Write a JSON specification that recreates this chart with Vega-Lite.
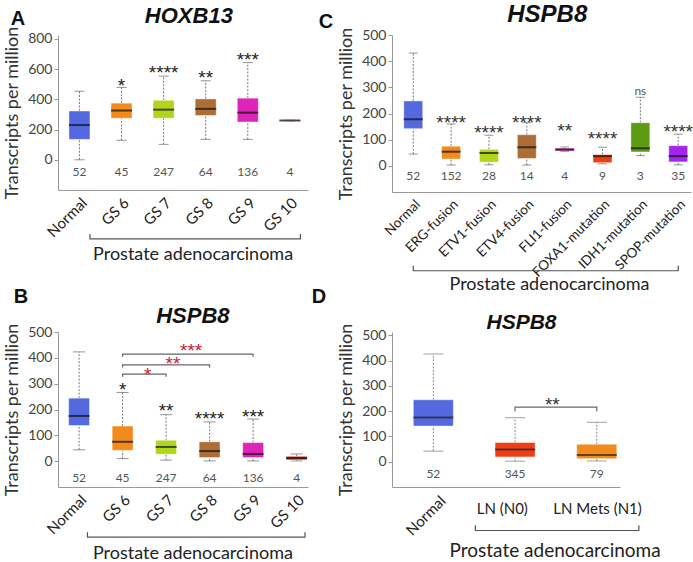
{
"$schema":"https://vega.github.io/schema/vega-lite/v6.json",
"background":"white",
"padding":{"left":3,"top":2,"right":0,"bottom":0},
"config":{
 "view":{"stroke":null},
 "font":"Lato",
 "axis":{"domainColor":"#9a9a9a","tickColor":"#9a9a9a","labelColor":"#444","labelFont":"Lato","titleFont":"Lato","titleFontWeight":"normal","titleColor":"#333","grid":false},
 "axisY":{"labelOverlap":false,"titleFontSize":18,"labelFontSize":14,"tickSize":4,"titlePadding":6},
 "title":{"font":"Liberation Sans","fontWeight":"bold","fontSize":20,"anchor":"start","frame":"bounds","color":"#111"}
},
"datasets":{
 "boxA":[
  {"g":"Normal","min":0,"q1":135,"med":230,"q3":323,"max":454,"n":52,"sig":"","sy":null},
  {"g":"GS 6","min":129,"q1":275,"med":326,"q3":375,"max":479,"n":45,"sig":"*","sy":521},
  {"g":"GS 7","min":102,"q1":275,"med":332,"q3":394,"max":554,"n":247,"sig":"****","sy":605},
  {"g":"GS 8","min":135,"q1":293,"med":337,"q3":403,"max":523,"n":64,"sig":"**","sy":572},
  {"g":"GS 9","min":135,"q1":250,"med":312,"q3":408,"max":643,"n":136,"sig":"***","sy":694},
  {"g":"GS 10","min":258,"q1":258,"med":260,"q3":262,"max":262,"n":4,"sig":"","sy":null}
 ],
 "boxB":[
  {"g":"Normal","min":44,"q1":138,"med":175,"q3":244,"max":423,"n":52,"sig":"","sy":null},
  {"g":"GS 6","min":10,"q1":42,"med":75,"q3":136,"max":266,"n":45,"sig":"*","sy":296},
  {"g":"GS 7","min":4,"q1":27,"med":55,"q3":81,"max":180,"n":247,"sig":"**","sy":212},
  {"g":"GS 8","min":1,"q1":14,"med":39,"q3":75,"max":152,"n":64,"sig":"****","sy":182},
  {"g":"GS 9","min":1,"q1":14,"med":28,"q3":72,"max":163,"n":136,"sig":"***","sy":191},
  {"g":"GS 10","min":1,"q1":5,"med":12,"q3":19,"max":28,"n":4,"sig":"","sy":null}
 ],
 "boxC":[
  {"g":"Normal","min":45,"q1":142,"med":178,"q3":248,"max":431,"n":52,"sig":"","sy":null},
  {"g":"ERG-fusion","min":3,"q1":26,"med":54,"q3":75,"max":160,"n":152,"sig":"****","sy":183},
  {"g":"ETV1-fusion","min":4,"q1":14,"med":49,"q3":63,"max":117,"n":28,"sig":"****","sy":145},
  {"g":"ETV4-fusion","min":3,"q1":28,"med":71,"q3":119,"max":165,"n":14,"sig":"****","sy":183},
  {"g":"FLI1-fusion","min":55,"q1":57,"med":62,"q3":68,"max":72,"n":4,"sig":"**","sy":153},
  {"g":"FOXA1-mutation","min":8,"q1":12,"med":37,"q3":43,"max":71,"n":9,"sig":"****","sy":123},
  {"g":"IDH1-mutation","min":39,"q1":53,"med":67,"q3":165,"max":262,"n":3,"sig":"ns","sy":287},
  {"g":"SPOP-mutation","min":4,"q1":15,"med":37,"q3":77,"max":121,"n":35,"sig":"****","sy":148}
 ],
 "boxD":[
  {"g":"Normal","min":42,"q1":141,"med":175,"q3":245,"max":426,"n":52},
  {"g":"LN (N0)","min":2,"q1":19,"med":48,"q3":76,"max":174,"n":345},
  {"g":"LN Mets (N1)","min":3,"q1":12,"med":27,"q3":69,"max":156,"n":79}
 ]
},
"columns":2,
"spacing":{"row":140,"column":84},
"bounds":"flush",
"align":"each",
"concat":[
 {
  "width":250,"height":155,
  "title":{"text":"A","dx":7,"offset":-24},
  "data":{"name":"boxA"},
  "encoding":{"x":{"field":"g","type":"nominal","scale":{"domain":["Normal","GS 6","GS 7","GS 8","GS 9","GS 10"],"paddingInner":0.5,"paddingOuter":0.22,"align":0.59},"axis":{"title":null,"labelAngle":-45,"labelFontSize":15,"labelColor":"#222","ticks":false,"labelPadding":5}}},
  "layer":[
   {"mark":{"type":"rule","color":"#777","strokeWidth":1,"strokeDash":[2,1.5]},
    "encoding":{"y":{"field":"min","type":"quantitative","scale":{"domain":[-200,826]},"axis":{"title":"Transcripts per million","values":[0,200,400,600,800],"labelOverlap":false}},"y2":{"field":"q1"}}},
   {"mark":{"type":"rule","color":"#777","strokeWidth":1,"strokeDash":[2,1.5]},
    "encoding":{"y":{"field":"q3","type":"quantitative","scale":{"domain":[-200,826]},"axis":{"title":"Transcripts per million","values":[0,200,400,600,800],"labelOverlap":false}},"y2":{"field":"max"}}},
   {"mark":{"type":"tick","orient":"horizontal","color":"#666","size":10,"thickness":1},
    "encoding":{"y":{"field":"min","type":"quantitative","scale":{"domain":[-200,826]},"axis":{"title":"Transcripts per million","values":[0,200,400,600,800],"labelOverlap":false}}}},
   {"mark":{"type":"tick","orient":"horizontal","color":"#666","size":10,"thickness":1},
    "encoding":{"y":{"field":"max","type":"quantitative","scale":{"domain":[-200,826]},"axis":{"title":"Transcripts per million","values":[0,200,400,600,800],"labelOverlap":false}}}},
   {"mark":{"type":"bar","stroke":"#ffffff","strokeOpacity":0.45,"strokeWidth":1},
    "encoding":{"y":{"field":"q1","type":"quantitative","scale":{"domain":[-200,826]},"axis":{"title":"Transcripts per million","values":[0,200,400,600,800],"labelOverlap":false}},"y2":{"field":"q3"},
     "color":{"field":"g","type":"nominal","legend":null,"scale":{"domain":["Normal","GS 6","GS 7","GS 8","GS 9","GS 10","ERG-fusion","ETV1-fusion","ETV4-fusion","FLI1-fusion","FOXA1-mutation","IDH1-mutation","SPOP-mutation","LN (N0)","LN Mets (N1)"],"range":["#5468e0","#f28a1e","#b0d51a","#ad6d36","#dd25b9","#d42a2a","#f28a1e","#b0d51a","#ad6d36","#d43cb6","#f03e14","#5e9a12","#a124ef","#f03e14","#f28a1e"]}}}},
   {"mark":{"type":"tick","orient":"horizontal","color":"#111","size":21,"thickness":2},
    "encoding":{"y":{"field":"med","type":"quantitative","scale":{"domain":[-200,826]},"axis":{"title":"Transcripts per million","values":[0,200,400,600,800],"labelOverlap":false}}}},
   {"mark":{"type":"text","font":"Lato","fontSize":12,"color":"#555"},
    "encoding":{"y":{"datum":-84,"type":"quantitative","scale":{"domain":[-200,826]},"axis":{"title":"Transcripts per million","values":[0,200,400,600,800],"labelOverlap":false}},"text":{"field":"n","type":"nominal"}}},
   {"transform":[{"filter":"datum.sig != '' && datum.sig != 'ns'"}],
    "mark":{"type":"text","font":"Liberation Sans","fontSize":19,"color":"#222","baseline":"alphabetic","dy":11},
    "encoding":{"y":{"field":"sy","type":"quantitative","scale":{"domain":[-200,826]},"axis":{"title":"Transcripts per million","values":[0,200,400,600,800],"labelOverlap":false}},"text":{"field":"sig","type":"nominal"}}},
   {"data":{"values":[{"g":"Normal","v":-491,"o":1},{"g":"Normal","v":-524,"o":2},{"g":"GS 10","v":-524,"o":3},{"g":"GS 10","v":-491,"o":4}]},
    "mark":{"type":"line","color":"#555","strokeWidth":1.2},
    "encoding":{"x":{"field":"g","type":"nominal","bandPosition":1,"title":null,"scale":{"domain":["Normal","GS 6","GS 7","GS 8","GS 9","GS 10"],"paddingInner":0.5,"paddingOuter":0.22,"align":0.59}},
     "y":{"field":"v","type":"quantitative","scale":{"domain":[-200,826]},"axis":{"title":"Transcripts per million","values":[0,200,400,600,800],"labelOverlap":false}},"order":{"field":"o","type":"quantitative"}}},
   {"data":{"values":[{"g":"GS 8","v":-628,"t":"Prostate adenocarcinoma"}]},
    "mark":{"type":"text","font":"Lato","fontSize":18,"color":"#222"},
    "encoding":{"x":{"field":"g","type":"nominal","bandPosition":-0.1,"title":null,"scale":{"domain":["Normal","GS 6","GS 7","GS 8","GS 9","GS 10"],"paddingInner":0.5,"paddingOuter":0.22,"align":0.59}},
     "y":{"field":"v","type":"quantitative","scale":{"domain":[-200,826]},"axis":{"title":"Transcripts per million","values":[0,200,400,600,800],"labelOverlap":false}},"text":{"field":"t","type":"nominal"}}},
   {"data":{"values":[{"g":"GS 8","v":952,"t":"HOXB13"}]},
    "mark":{"type":"text","font":"Liberation Sans","fontSize":22,"fontWeight":"bold","fontStyle":"italic","color":"#111"},
    "encoding":{"x":{"field":"g","type":"nominal","bandPosition":-0.3,"title":null,"scale":{"domain":["Normal","GS 6","GS 7","GS 8","GS 9","GS 10"],"paddingInner":0.5,"paddingOuter":0.22,"align":0.59}},
     "y":{"field":"v","type":"quantitative","scale":{"domain":[-200,826]},"axis":{"title":"Transcripts per million","values":[0,200,400,600,800],"labelOverlap":false}},"text":{"field":"t","type":"nominal"}}}
  ]
 },
 {
  "width":299,"height":157,
  "title":{"text":"C","dx":-19,"offset":-29},
  "data":{"name":"boxC"},
  "encoding":{"x":{"field":"g","type":"nominal","scale":{"domain":["Normal","ERG-fusion","ETV1-fusion","ETV4-fusion","FLI1-fusion","FOXA1-mutation","IDH1-mutation","SPOP-mutation"],"paddingInner":0.5,"paddingOuter":0.2,"align":0.78},"axis":{"title":null,"labelAngle":-45,"labelFontSize":13.5,"labelColor":"#222","ticks":false,"labelPadding":5}}},
  "layer":[
   {"mark":{"type":"rule","color":"#777","strokeWidth":1,"strokeDash":[2,1.5]},
    "encoding":{"y":{"field":"min","type":"quantitative","scale":{"domain":[-100,500]},"axis":{"title":"Transcripts per million","values":[0,100,200,300,400,500],"labelOverlap":false}},"y2":{"field":"q1"}}},
   {"mark":{"type":"rule","color":"#777","strokeWidth":1,"strokeDash":[2,1.5]},
    "encoding":{"y":{"field":"q3","type":"quantitative","scale":{"domain":[-100,500]},"axis":{"title":"Transcripts per million","values":[0,100,200,300,400,500],"labelOverlap":false}},"y2":{"field":"max"}}},
   {"mark":{"type":"tick","orient":"horizontal","color":"#666","size":9,"thickness":1},
    "encoding":{"y":{"field":"min","type":"quantitative","scale":{"domain":[-100,500]},"axis":{"title":"Transcripts per million","values":[0,100,200,300,400,500],"labelOverlap":false}}}},
   {"mark":{"type":"tick","orient":"horizontal","color":"#666","size":9,"thickness":1},
    "encoding":{"y":{"field":"max","type":"quantitative","scale":{"domain":[-100,500]},"axis":{"title":"Transcripts per million","values":[0,100,200,300,400,500],"labelOverlap":false}}}},
   {"mark":{"type":"bar","stroke":"#ffffff","strokeOpacity":0.45,"strokeWidth":1},
    "encoding":{"y":{"field":"q1","type":"quantitative","scale":{"domain":[-100,500]},"axis":{"title":"Transcripts per million","values":[0,100,200,300,400,500],"labelOverlap":false}},"y2":{"field":"q3"},
     "color":{"field":"g","type":"nominal","legend":null,"scale":{"domain":["Normal","GS 6","GS 7","GS 8","GS 9","GS 10","ERG-fusion","ETV1-fusion","ETV4-fusion","FLI1-fusion","FOXA1-mutation","IDH1-mutation","SPOP-mutation","LN (N0)","LN Mets (N1)"],"range":["#5468e0","#f28a1e","#b0d51a","#ad6d36","#dd25b9","#d42a2a","#f28a1e","#b0d51a","#ad6d36","#d43cb6","#f03e14","#5e9a12","#a124ef","#f03e14","#f28a1e"]}}}},
   {"mark":{"type":"tick","orient":"horizontal","color":"#111","size":19,"thickness":2},
    "encoding":{"y":{"field":"med","type":"quantitative","scale":{"domain":[-100,500]},"axis":{"title":"Transcripts per million","values":[0,100,200,300,400,500],"labelOverlap":false}}}},
   {"mark":{"type":"text","font":"Lato","fontSize":12,"color":"#555"},
    "encoding":{"y":{"datum":-39,"type":"quantitative","scale":{"domain":[-100,500]},"axis":{"title":"Transcripts per million","values":[0,100,200,300,400,500],"labelOverlap":false}},"text":{"field":"n","type":"nominal"}}},
   {"transform":[{"filter":"datum.sig != '' && datum.sig != 'ns'"}],
    "mark":{"type":"text","font":"Liberation Sans","fontSize":19,"color":"#333","baseline":"alphabetic","dy":11},
    "encoding":{"y":{"field":"sy","type":"quantitative","scale":{"domain":[-100,500]},"axis":{"title":"Transcripts per million","values":[0,100,200,300,400,500],"labelOverlap":false}},"text":{"field":"sig","type":"nominal"}}},
   {"transform":[{"filter":"datum.sig == 'ns'"}],
    "mark":{"type":"text","font":"Lato","fontSize":12,"color":"#555"},
    "encoding":{"y":{"field":"sy","type":"quantitative","scale":{"domain":[-100,500]},"axis":{"title":"Transcripts per million","values":[0,100,200,300,400,500],"labelOverlap":false}},"text":{"field":"sig","type":"nominal"}}},
   {"data":{"values":[{"g":"Normal","v":-382,"o":1},{"g":"Normal","v":-401,"o":2},{"g":"SPOP-mutation","v":-401,"o":3},{"g":"SPOP-mutation","v":-382,"o":4}]},
    "mark":{"type":"line","color":"#555","strokeWidth":1.2},
    "encoding":{"y":{"field":"v","type":"quantitative","scale":{"domain":[-100,500]},"axis":{"title":"Transcripts per million","values":[0,100,200,300,400,500],"labelOverlap":false}},"order":{"field":"o","type":"quantitative"}}},
   {"data":{"values":[{"g":"ETV4-fusion","v":-456,"t":"Prostate adenocarcinoma"}]},
    "mark":{"type":"text","font":"Lato","fontSize":18,"color":"#222"},
    "encoding":{"x":{"field":"g","type":"nominal","bandPosition":1.7,"title":null,"scale":{"domain":["Normal","ERG-fusion","ETV1-fusion","ETV4-fusion","FLI1-fusion","FOXA1-mutation","IDH1-mutation","SPOP-mutation"],"paddingInner":0.5,"paddingOuter":0.2,"align":0.78}},
     "y":{"field":"v","type":"quantitative","scale":{"domain":[-100,500]},"axis":{"title":"Transcripts per million","values":[0,100,200,300,400,500],"labelOverlap":false}},"text":{"field":"t","type":"nominal"}}},
   {"data":{"values":[{"g":"ETV4-fusion","v":577,"t":"HSPB8"}]},
    "mark":{"type":"text","font":"Liberation Sans","fontSize":24,"fontWeight":"bold","fontStyle":"italic","color":"#111"},
    "encoding":{"x":{"field":"g","type":"nominal","bandPosition":1.58,"title":null,"scale":{"domain":["Normal","ERG-fusion","ETV1-fusion","ETV4-fusion","FLI1-fusion","FOXA1-mutation","IDH1-mutation","SPOP-mutation"],"paddingInner":0.5,"paddingOuter":0.2,"align":0.78}},
     "y":{"field":"v","type":"quantitative","scale":{"domain":[-100,500]},"axis":{"title":"Transcripts per million","values":[0,100,200,300,400,500],"labelOverlap":false}},"text":{"field":"t","type":"nominal"}}}
  ]
 },
 {
  "width":250,"height":155,
  "title":{"text":"B","dx":10,"offset":-2},
  "data":{"name":"boxB"},
  "encoding":{"x":{"field":"g","type":"nominal","scale":{"domain":["Normal","GS 6","GS 7","GS 8","GS 9","GS 10"],"paddingInner":0.52,"paddingOuter":0.133,"align":0.92},"axis":{"title":null,"labelAngle":-45,"labelFontSize":15,"labelColor":"#222","ticks":false,"labelPadding":5}}},
  "layer":[
   {"mark":{"type":"rule","color":"#777","strokeWidth":1,"strokeDash":[2,1.5]},
    "encoding":{"y":{"field":"min","type":"quantitative","scale":{"domain":[-100,500]},"axis":{"title":"Transcripts per million","values":[0,100,200,300,400,500],"labelOverlap":false}},"y2":{"field":"q1"}}},
   {"mark":{"type":"rule","color":"#777","strokeWidth":1,"strokeDash":[2,1.5]},
    "encoding":{"y":{"field":"q3","type":"quantitative","scale":{"domain":[-100,500]},"axis":{"title":"Transcripts per million","values":[0,100,200,300,400,500],"labelOverlap":false}},"y2":{"field":"max"}}},
   {"mark":{"type":"tick","orient":"horizontal","color":"#666","size":12,"thickness":1},
    "encoding":{"y":{"field":"min","type":"quantitative","scale":{"domain":[-100,500]},"axis":{"title":"Transcripts per million","values":[0,100,200,300,400,500],"labelOverlap":false}}}},
   {"mark":{"type":"tick","orient":"horizontal","color":"#666","size":12,"thickness":1},
    "encoding":{"y":{"field":"max","type":"quantitative","scale":{"domain":[-100,500]},"axis":{"title":"Transcripts per million","values":[0,100,200,300,400,500],"labelOverlap":false}}}},
   {"mark":{"type":"bar","stroke":"#ffffff","strokeOpacity":0.45,"strokeWidth":1},
    "encoding":{"y":{"field":"q1","type":"quantitative","scale":{"domain":[-100,500]},"axis":{"title":"Transcripts per million","values":[0,100,200,300,400,500],"labelOverlap":false}},"y2":{"field":"q3"},
     "color":{"field":"g","type":"nominal","legend":null,"scale":{"domain":["Normal","GS 6","GS 7","GS 8","GS 9","GS 10","ERG-fusion","ETV1-fusion","ETV4-fusion","FLI1-fusion","FOXA1-mutation","IDH1-mutation","SPOP-mutation","LN (N0)","LN Mets (N1)"],"range":["#5468e0","#f28a1e","#b0d51a","#ad6d36","#dd25b9","#d42a2a","#f28a1e","#b0d51a","#ad6d36","#d43cb6","#f03e14","#5e9a12","#a124ef","#f03e14","#f28a1e"]}}}},
   {"mark":{"type":"tick","orient":"horizontal","color":"#111","size":21,"thickness":2},
    "encoding":{"y":{"field":"med","type":"quantitative","scale":{"domain":[-100,500]},"axis":{"title":"Transcripts per million","values":[0,100,200,300,400,500],"labelOverlap":false}}}},
   {"mark":{"type":"text","font":"Lato","fontSize":12,"color":"#555"},
    "encoding":{"y":{"datum":-66,"type":"quantitative","scale":{"domain":[-100,500]},"axis":{"title":"Transcripts per million","values":[0,100,200,300,400,500],"labelOverlap":false}},"text":{"field":"n","type":"nominal"}}},
   {"transform":[{"filter":"datum.sig != '' && datum.sig != 'ns'"}],
    "mark":{"type":"text","font":"Liberation Sans","fontSize":19,"color":"#222","baseline":"alphabetic","dy":11},
    "encoding":{"y":{"field":"sy","type":"quantitative","scale":{"domain":[-100,500]},"axis":{"title":"Transcripts per million","values":[0,100,200,300,400,500],"labelOverlap":false}},"text":{"field":"sig","type":"nominal"}}},
   {"data":{"values":[
     {"id":1,"g":"GS 6","v":327,"o":1},{"id":1,"g":"GS 6","v":337,"o":2},{"id":1,"g":"GS 7","v":337,"o":3},{"id":1,"g":"GS 7","v":327,"o":4},
     {"id":2,"g":"GS 6","v":363,"o":1},{"id":2,"g":"GS 6","v":373,"o":2},{"id":2,"g":"GS 8","v":373,"o":3},{"id":2,"g":"GS 8","v":363,"o":4},
     {"id":3,"g":"GS 6","v":404,"o":1},{"id":3,"g":"GS 6","v":414,"o":2},{"id":3,"g":"GS 9","v":414,"o":3},{"id":3,"g":"GS 9","v":404,"o":4}]},
    "mark":{"type":"line","color":"#666","strokeWidth":1.2},
    "encoding":{"y":{"field":"v","type":"quantitative","scale":{"domain":[-100,500]},"axis":{"title":"Transcripts per million","values":[0,100,200,300,400,500],"labelOverlap":false}},"order":{"field":"o","type":"quantitative"},"detail":{"field":"id","type":"nominal"}}},
   {"data":{"values":[{"g":"GS 6","v":351,"t":"*"},{"g":"GS 7","v":447,"t":"***"}]},
    "mark":{"type":"text","font":"Liberation Sans","fontSize":19,"color":"#c8203a","baseline":"alphabetic","dy":11},
    "encoding":{"x":{"field":"g","type":"nominal","bandPosition":1.7,"title":null,"scale":{"domain":["Normal","GS 6","GS 7","GS 8","GS 9","GS 10"],"paddingInner":0.52,"paddingOuter":0.133,"align":0.92}},
     "y":{"field":"v","type":"quantitative","scale":{"domain":[-100,500]},"axis":{"title":"Transcripts per million","values":[0,100,200,300,400,500],"labelOverlap":false}},"text":{"field":"t","type":"nominal"}}},
   {"data":{"values":[{"g":"GS 7","v":396,"t":"**"}]},
    "mark":{"type":"text","font":"Liberation Sans","fontSize":19,"color":"#c8203a","baseline":"alphabetic","dy":11},
    "encoding":{"x":{"field":"g","type":"nominal","bandPosition":0.83,"title":null,"scale":{"domain":["Normal","GS 6","GS 7","GS 8","GS 9","GS 10"],"paddingInner":0.52,"paddingOuter":0.133,"align":0.92}},
     "y":{"field":"v","type":"quantitative","scale":{"domain":[-100,500]},"axis":{"title":"Transcripts per million","values":[0,100,200,300,400,500],"labelOverlap":false}},"text":{"field":"t","type":"nominal"}}},
   {"data":{"values":[{"g":"Normal","v":-275,"o":1},{"g":"Normal","v":-294,"o":2},{"g":"GS 10","v":-294,"o":3},{"g":"GS 10","v":-275,"o":4}]},
    "mark":{"type":"line","color":"#555","strokeWidth":1.2},
    "encoding":{"x":{"field":"g","type":"nominal","bandPosition":0.9,"title":null,"scale":{"domain":["Normal","GS 6","GS 7","GS 8","GS 9","GS 10"],"paddingInner":0.52,"paddingOuter":0.133,"align":0.92}},
     "y":{"field":"v","type":"quantitative","scale":{"domain":[-100,500]},"axis":{"title":"Transcripts per million","values":[0,100,200,300,400,500],"labelOverlap":false}},"order":{"field":"o","type":"quantitative"}}},
   {"data":{"values":[{"g":"GS 8","v":-360,"t":"Prostate adenocarcinoma"}]},
    "mark":{"type":"text","font":"Lato","fontSize":18,"color":"#222"},
    "encoding":{"x":{"field":"g","type":"nominal","bandPosition":-0.3,"title":null,"scale":{"domain":["Normal","GS 6","GS 7","GS 8","GS 9","GS 10"],"paddingInner":0.52,"paddingOuter":0.133,"align":0.92}},
     "y":{"field":"v","type":"quantitative","scale":{"domain":[-100,500]},"axis":{"title":"Transcripts per million","values":[0,100,200,300,400,500],"labelOverlap":false}},"text":{"field":"t","type":"nominal"}}},
   {"data":{"values":[{"g":"GS 8","v":563,"t":"HSPB8"}]},
    "mark":{"type":"text","font":"Liberation Sans","fontSize":22,"fontWeight":"bold","fontStyle":"italic","color":"#111"},
    "encoding":{"x":{"field":"g","type":"nominal","bandPosition":-0.3,"title":null,"scale":{"domain":["Normal","GS 6","GS 7","GS 8","GS 9","GS 10"],"paddingInner":0.52,"paddingOuter":0.133,"align":0.92}},
     "y":{"field":"v","type":"quantitative","scale":{"domain":[-100,500]},"axis":{"title":"Transcripts per million","values":[0,100,200,300,400,500],"labelOverlap":false}},"text":{"field":"t","type":"nominal"}}}
  ]
 },
 {
  "width":228,"height":155,
  "title":{"text":"D","dx":-26,"offset":5},
  "data":{"name":"boxD"},
  "encoding":{"x":{"field":"g","type":"nominal","scale":{"domain":["Normal","LN (N0)","LN Mets (N1)"],"paddingInner":0.51,"paddingOuter":0.15,"align":0.87},
   "axis":{"title":null,"labels":false,"ticks":false}}},
  "layer":[
   {"mark":{"type":"rule","color":"#888","strokeWidth":1,"strokeDash":[2,1.5]},
    "encoding":{"y":{"field":"min","type":"quantitative","scale":{"domain":[-100,513]},"axis":{"title":"Transcripts per million","values":[0,100,200,300,400,500],"labelOverlap":false}},"y2":{"field":"q1"}}},
   {"mark":{"type":"rule","color":"#888","strokeWidth":1,"strokeDash":[2,1.5]},
    "encoding":{"y":{"field":"q3","type":"quantitative","scale":{"domain":[-100,513]},"axis":{"title":"Transcripts per million","values":[0,100,200,300,400,500],"labelOverlap":false}},"y2":{"field":"max"}}},
   {"mark":{"type":"tick","orient":"horizontal","color":"#777","size":20,"thickness":1},
    "encoding":{"y":{"field":"min","type":"quantitative","scale":{"domain":[-100,513]},"axis":{"title":"Transcripts per million","values":[0,100,200,300,400,500],"labelOverlap":false}}}},
   {"mark":{"type":"tick","orient":"horizontal","color":"#777","size":20,"thickness":1},
    "encoding":{"y":{"field":"max","type":"quantitative","scale":{"domain":[-100,513]},"axis":{"title":"Transcripts per million","values":[0,100,200,300,400,500],"labelOverlap":false}}}},
   {"mark":{"type":"bar","stroke":"#ffffff","strokeOpacity":0.45,"strokeWidth":1},
    "encoding":{"y":{"field":"q1","type":"quantitative","scale":{"domain":[-100,513]},"axis":{"title":"Transcripts per million","values":[0,100,200,300,400,500],"labelOverlap":false}},"y2":{"field":"q3"},
     "color":{"field":"g","type":"nominal","legend":null,"scale":{"domain":["Normal","GS 6","GS 7","GS 8","GS 9","GS 10","ERG-fusion","ETV1-fusion","ETV4-fusion","FLI1-fusion","FOXA1-mutation","IDH1-mutation","SPOP-mutation","LN (N0)","LN Mets (N1)"],"range":["#5468e0","#f28a1e","#b0d51a","#ad6d36","#dd25b9","#d42a2a","#f28a1e","#b0d51a","#ad6d36","#d43cb6","#f03e14","#5e9a12","#a124ef","#f03e14","#f28a1e"]}}}},
   {"mark":{"type":"tick","orient":"horizontal","color":"#222","size":40,"thickness":2},
    "encoding":{"y":{"field":"med","type":"quantitative","scale":{"domain":[-100,513]},"axis":{"title":"Transcripts per million","values":[0,100,200,300,400,500],"labelOverlap":false}}}},
   {"mark":{"type":"text","font":"Lato","fontSize":12,"color":"#555"},
    "encoding":{"y":{"datum":-47,"type":"quantitative","scale":{"domain":[-100,513]},"axis":{"title":"Transcripts per million","values":[0,100,200,300,400,500],"labelOverlap":false}},"text":{"field":"n","type":"nominal"}}},
   {"transform":[{"filter":"datum.g == 'Normal'"}],
    "mark":{"type":"text","font":"Lato","fontSize":15,"color":"#222","angle":315,"align":"right","baseline":"top"},
    "encoding":{"x":{"field":"g","type":"nominal","bandPosition":0.62,"title":null,"scale":{"domain":["Normal","LN (N0)","LN Mets (N1)"],"paddingInner":0.51,"paddingOuter":0.15,"align":0.87}},
     "y":{"datum":-126,"type":"quantitative","scale":{"domain":[-100,513]},"axis":{"title":"Transcripts per million","values":[0,100,200,300,400,500],"labelOverlap":false}},"text":{"field":"g","type":"nominal"}}},
   {"transform":[{"filter":"datum.g == 'LN (N0)'"}],
    "mark":{"type":"text","font":"Lato","fontSize":15,"color":"#222"},
    "encoding":{"x":{"field":"g","type":"nominal","bandPosition":0.18,"title":null,"scale":{"domain":["Normal","LN (N0)","LN Mets (N1)"],"paddingInner":0.51,"paddingOuter":0.15,"align":0.87}},
     "y":{"datum":-187,"type":"quantitative","scale":{"domain":[-100,513]},"axis":{"title":"Transcripts per million","values":[0,100,200,300,400,500],"labelOverlap":false}},"text":{"field":"g","type":"nominal"}}},
   {"transform":[{"filter":"datum.g == 'LN Mets (N1)'"}],
    "mark":{"type":"text","font":"Lato","fontSize":15,"color":"#222"},
    "encoding":{"x":{"field":"g","type":"nominal","bandPosition":0.52,"title":null,"scale":{"domain":["Normal","LN (N0)","LN Mets (N1)"],"paddingInner":0.51,"paddingOuter":0.15,"align":0.87}},
     "y":{"datum":-187,"type":"quantitative","scale":{"domain":[-100,513]},"axis":{"title":"Transcripts per million","values":[0,100,200,300,400,500],"labelOverlap":false}},"text":{"field":"g","type":"nominal"}}},
   {"data":{"values":[{"g":"LN (N0)","v":200,"o":1},{"g":"LN (N0)","v":216,"o":2},{"g":"LN Mets (N1)","v":216,"o":3},{"g":"LN Mets (N1)","v":200,"o":4}]},
    "mark":{"type":"line","color":"#666","strokeWidth":1.2},
    "encoding":{"y":{"field":"v","type":"quantitative","scale":{"domain":[-100,513]},"axis":{"title":"Transcripts per million","values":[0,100,200,300,400,500],"labelOverlap":false}},"order":{"field":"o","type":"quantitative"}}},
   {"data":{"values":[{"g":"LN (N0)","v":246,"t":"**"}]},
    "mark":{"type":"text","font":"Liberation Sans","fontSize":19,"color":"#333","baseline":"alphabetic","dy":11},
    "encoding":{"x":{"field":"g","type":"nominal","bandPosition":1.43,"title":null,"scale":{"domain":["Normal","LN (N0)","LN Mets (N1)"],"paddingInner":0.51,"paddingOuter":0.15,"align":0.87}},
     "y":{"field":"v","type":"quantitative","scale":{"domain":[-100,513]},"axis":{"title":"Transcripts per million","values":[0,100,200,300,400,500],"labelOverlap":false}},"text":{"field":"t","type":"nominal"}}},
   {"data":{"values":[{"g":"Normal","v":-251,"o":1},{"g":"Normal","v":-272,"o":2},{"g":"LN Mets (N1)","v":-272,"o":3},{"g":"LN Mets (N1)","v":-251,"o":4}]},
    "mark":{"type":"line","color":"#555","strokeWidth":1.2},
    "encoding":{"x":{"field":"g","type":"nominal","bandPosition":1.55,"title":null,"scale":{"domain":["Normal","LN (N0)","LN Mets (N1)"],"paddingInner":0.51,"paddingOuter":0.15,"align":0.87}},
     "y":{"field":"v","type":"quantitative","scale":{"domain":[-100,513]},"axis":{"title":"Transcripts per million","values":[0,100,200,300,400,500],"labelOverlap":false}},"order":{"field":"o","type":"quantitative"}}},
   {"data":{"values":[{"g":"LN (N0)","v":-353,"t":"Prostate adenocarcinoma"}]},
    "mark":{"type":"text","font":"Lato","fontSize":19,"color":"#222"},
    "encoding":{"x":{"field":"g","type":"nominal","bandPosition":1.5,"title":null,"scale":{"domain":["Normal","LN (N0)","LN Mets (N1)"],"paddingInner":0.51,"paddingOuter":0.15,"align":0.87}},
     "y":{"field":"v","type":"quantitative","scale":{"domain":[-100,513]},"axis":{"title":"Transcripts per million","values":[0,100,200,300,400,500],"labelOverlap":false}},"text":{"field":"t","type":"nominal"}}},
   {"data":{"values":[{"g":"LN (N0)","v":549,"t":"HSPB8"}]},
    "mark":{"type":"text","font":"Liberation Sans","fontSize":21,"fontWeight":"bold","fontStyle":"italic","color":"#111"},
    "encoding":{"x":{"field":"g","type":"nominal","bandPosition":0.66,"title":null,"scale":{"domain":["Normal","LN (N0)","LN Mets (N1)"],"paddingInner":0.51,"paddingOuter":0.15,"align":0.87}},
     "y":{"field":"v","type":"quantitative","scale":{"domain":[-100,513]},"axis":{"title":"Transcripts per million","values":[0,100,200,300,400,500],"labelOverlap":false}},"text":{"field":"t","type":"nominal"}}}
  ]
 }
]
}
